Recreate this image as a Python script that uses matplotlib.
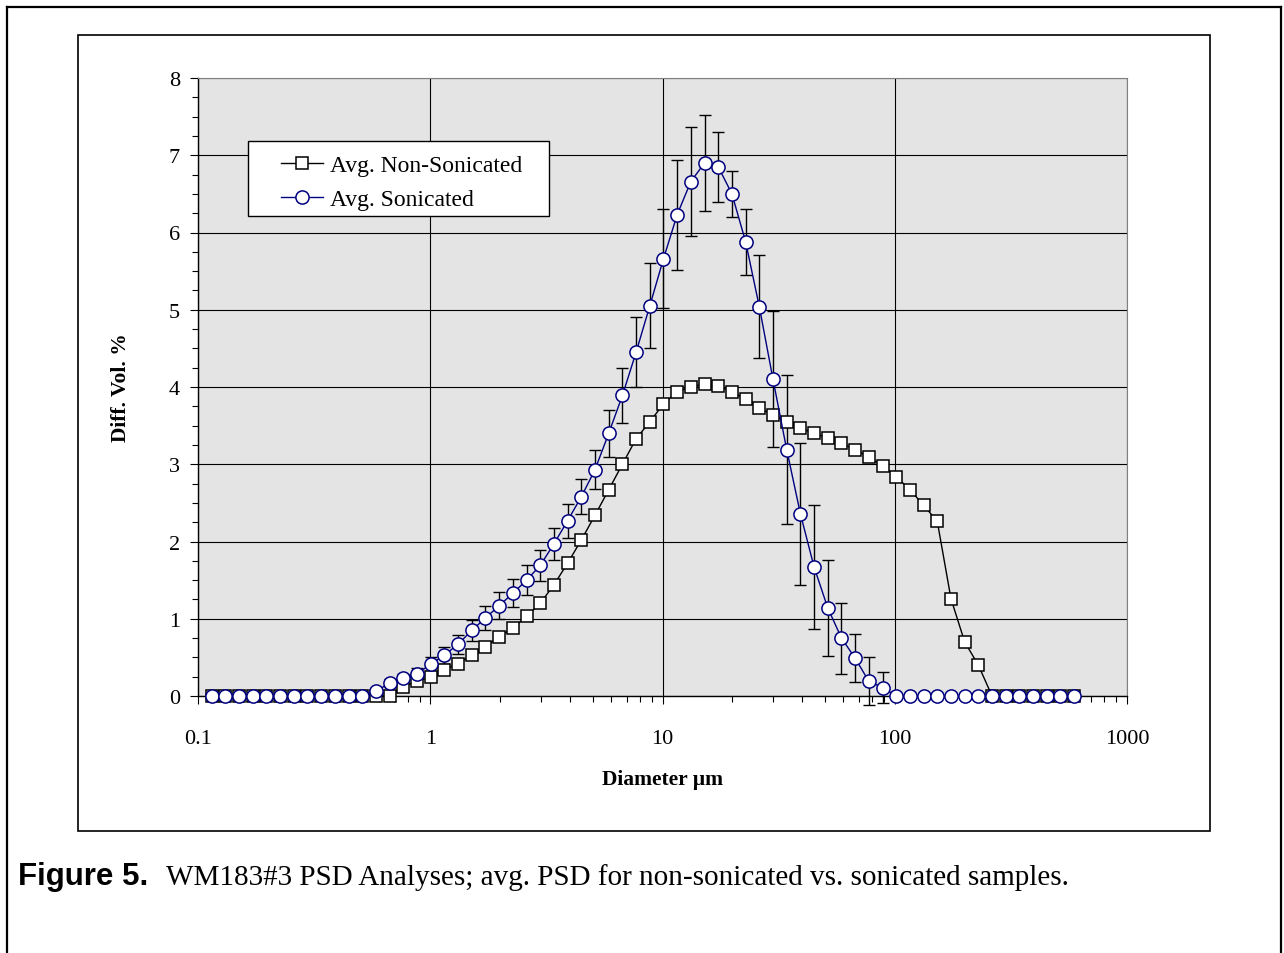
import numpy as np
import matplotlib.pyplot as plt
from matplotlib.patches import Rectangle
from matplotlib.lines import Line2D
from matplotlib.ticker import LogLocator, NullFormatter, MultipleLocator

plt.rcParams['font.family'] = ['Liberation Serif', 'DejaVu Serif']

# analyser size channels (um)
diam = [0.115, 0.131, 0.150, 0.172, 0.197, 0.226, 0.259, 0.296, 0.339, 0.389,
        0.445, 0.510, 0.584, 0.669, 0.766, 0.877, 1.005, 1.151, 1.318, 1.510,
        1.729, 1.981, 2.269, 2.599, 2.976, 3.409, 3.905, 4.472, 5.122, 5.867,
        6.720, 7.697, 8.816, 10.097, 11.565, 13.246, 15.172, 17.377, 19.904, 22.797,
        26.111, 29.907, 34.255, 39.234, 44.938, 51.471, 58.953, 67.523, 77.339, 88.583,
        101.460, 116.210, 133.103, 152.453, 174.616, 200.000, 229.075, 262.376, 300.518, 344.206,
        394.244, 451.556, 517.200, 592.387]

non_sonic = [0, 0, 0, 0, 0, 0, 0, 0, 0, 0,
             0, 0, 0, 0, 0.12, 0.19, 0.25, 0.34, 0.42, 0.53,
             0.64, 0.77, 0.88, 1.03, 1.20, 1.44, 1.72, 2.02, 2.34, 2.67,
             3.00, 3.33, 3.55, 3.78, 3.94, 4.00, 4.04, 4.01, 3.94, 3.84,
             3.73, 3.64, 3.55, 3.47, 3.40, 3.34, 3.27, 3.19, 3.09, 2.98,
             2.84, 2.67, 2.47, 2.26, 1.26, 0.70, 0.40, 0, 0, 0,
             0, 0, 0, 0]

sonic = [0, 0, 0, 0, 0, 0, 0, 0, 0, 0,
         0, 0, 0.06, 0.17, 0.23, 0.29, 0.41, 0.53, 0.67, 0.85,
         1.01, 1.17, 1.33, 1.50, 1.69, 1.97, 2.27, 2.58, 2.93, 3.40,
         3.89, 4.45, 5.05, 5.66, 6.23, 6.66, 6.90, 6.85, 6.50, 5.88,
         5.04, 4.10, 3.19, 2.36, 1.67, 1.14, 0.75, 0.49, 0.19, 0.11,
         0, 0, 0, 0, 0, 0, 0, 0, 0, 0,
         0, 0, 0, 0]

sonic_err = [0, 0, 0, 0, 0, 0, 0, 0, 0, 0,
             0, 0, 0.04, 0.05, 0.06, 0.07, 0.09, 0.11, 0.12, 0.14,
             0.15, 0.17, 0.18, 0.19, 0.20, 0.21, 0.22, 0.23, 0.25, 0.30,
             0.36, 0.45, 0.55, 0.64, 0.71, 0.70, 0.62, 0.45, 0.30, 0.43,
             0.67, 0.88, 0.96, 0.92, 0.80, 0.62, 0.46, 0.31, 0.31, 0.20,
             0, 0, 0, 0, 0, 0, 0, 0, 0, 0,
             0, 0, 0, 0]

xticks = [0.1, 1, 10, 100, 1000]
xticklabels = ['0.1', '1', '10', '100', '1000']

W, H = 1284, 954
fig = plt.figure(figsize=(W / 100, H / 100), dpi=100)


def fx(px):
    return px / W


def fy(py):
    return 1 - py / H


# outer page frame and chart frame
fig.add_artist(Line2D([fx(7), fx(7)], [fy(8), 0], color='black', lw=1.6))
fig.add_artist(Line2D([fx(7), fx(1281)], [fy(8), fy(8)], color='black', lw=1.6))
fig.add_artist(Line2D([fx(1281), fx(1281)], [fy(8), 0], color='black', lw=1.6))
fig.add_artist(Rectangle((fx(78), fy(832)), fx(1210) - fx(78), fy(36) - fy(832),
                         fill=False, edgecolor='black', lw=1.2))

ax = fig.add_axes([fx(198), fy(697), fx(1127) - fx(198), fy(79) - fy(697)])
ax.set_facecolor('#e4e4e4')

d = np.array(diam)
s = np.array(sonic)
e = np.array(sonic_err)
m = e > 0
eb = ax.errorbar(d[m], s[m], yerr=e[m], fmt='none', ecolor='black',
                 elinewidth=1.0, capsize=4, capthick=1.0, zorder=2)
for a in list(eb.lines[1]) + list(eb.lines[2]):
    a.set_clip_on(False)

ax.plot(diam, non_sonic, color='black', lw=1.0, marker='s', markersize=9,
        markerfacecolor='white', markeredgecolor='black', markeredgewidth=1.1,
        label='Avg. Non-Sonicated', zorder=3, clip_on=False)
ax.plot(diam, sonic, color='#000080', lw=1.0, marker='o', markersize=9.5,
        markerfacecolor='white', markeredgecolor='#000080', markeredgewidth=1.1,
        label='Avg. Sonicated', zorder=4, clip_on=False)

ax.set_xscale('log')
ax.set_xlim(0.1, 1000)
ax.set_ylim(0, 8)
ax.set_xticks(xticks)
ax.set_xticklabels(xticklabels)
ax.xaxis.set_minor_locator(LogLocator(base=10, subs=np.arange(2, 10)))
ax.xaxis.set_minor_formatter(NullFormatter())
ax.yaxis.set_major_locator(MultipleLocator(1))
ax.yaxis.set_minor_locator(MultipleLocator(0.25))
ax.tick_params(which='major', direction='out', length=6, width=0.8, labelsize=16)
ax.tick_params(which='minor', direction='out', length=4, width=0.8)
ax.tick_params(axis='x', which='major', pad=18)
ax.tick_params(axis='y', which='major', pad=7)

ax.grid(True, which='major', color='black', lw=0.8)
ax.set_axisbelow(True)
for side in ['top', 'right']:
    ax.spines[side].set_color('#808080')
for side in ['left', 'bottom']:
    ax.spines[side].set_color('black')
    ax.spines[side].set_linewidth(1.0)

ax.set_xlabel('Diameter µm', fontsize=15.5, fontweight='bold')
ax.xaxis.set_label_coords(0.5, -0.118)
ax.set_ylabel('Diff. Vol. %', fontsize=15.5, fontweight='bold')
ax.yaxis.set_label_coords(-0.072, 0.5)

# legend box
ax.add_patch(Rectangle((fx(248), fy(217)), fx(549) - fx(248), fy(142) - fy(217),
                       transform=fig.transFigure, facecolor='white',
                       edgecolor='black', lw=1.0, zorder=5))
leg = ax.legend(loc='upper left', bbox_to_anchor=(fx(262), fy(137)),
                bbox_transform=fig.transFigure, frameon=False, fontsize=17,
                handlelength=1.8, handletextpad=0.3, labelspacing=0.52,
                numpoints=1, borderpad=0.3)
leg.set_zorder(6)

fig.text(fx(18), fy(885), 'Figure 5.', family='Liberation Sans', fontweight='bold',
         fontsize=22.5, va='baseline', ha='left')
fig.text(fx(166), fy(885),
         'WM183#3 PSD Analyses; avg. PSD for non-sonicated vs. sonicated samples.',
         fontsize=21, va='baseline', ha='left')

fig.savefig('out.png', dpi=100)
